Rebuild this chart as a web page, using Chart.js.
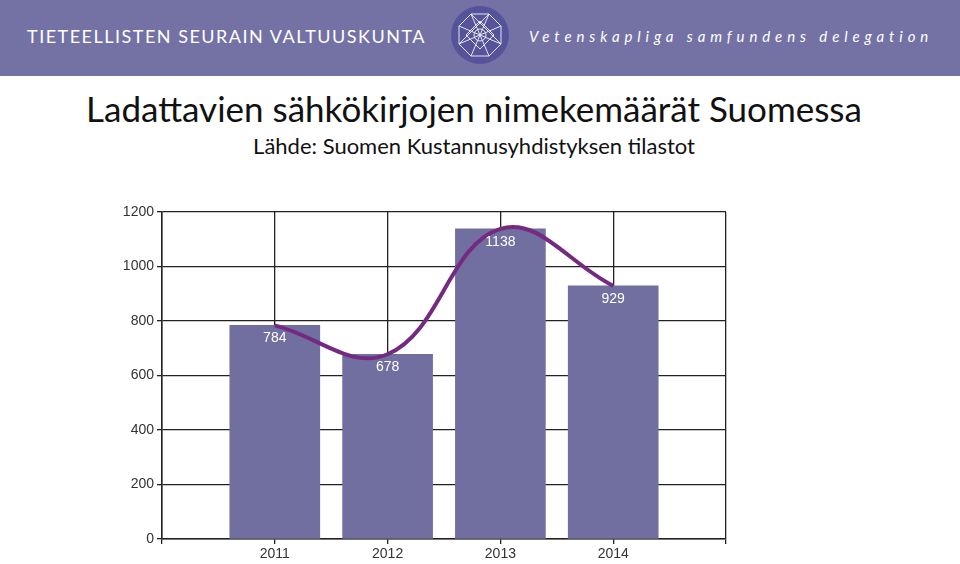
<!DOCTYPE html>
<html>
<head>
<meta charset="utf-8">
<script src="https://cdn.jsdelivr.net/npm/chart.js@4"></script>
<style>
  html, body { margin: 0; padding: 0; background: #fff; }
  body { width: 960px; height: 564px; overflow: hidden; position: relative; font-family: Lato, sans-serif; }
  .band { position: absolute; left: 0; top: 0; width: 960px; height: 76px; background: #7472a5; }
  .band span { position: absolute; color: #fff; white-space: nowrap; }
  .fi { left: 27px; top: 25px; font-size: 18px; line-height: 22px; letter-spacing: 1.5px; }
  .sv { left: 529px; top: 25px; font-size: 15px; line-height: 22px; font-style: italic; letter-spacing: 4.9px; }
  .band svg { position: absolute; left: 450px; top: 5px; }
  h1, h2 { position: absolute; left: -6px; width: 960px; margin: 0; text-align: center; font-weight: normal; color: #111; white-space: nowrap; }
  h1 { top: 86px; font-size: 35px; line-height: 44px; }
  h2 { top: 132px; font-size: 22px; line-height: 28px; }
  #wrap { position: absolute; left: 0; top: 200px; width: 960px; height: 364px; }
</style>
</head>
<body>
<div class="band">
  <span class="fi">TIETEELLISTEN SEURAIN VALTUUSKUNTA</span>
  <svg width="60" height="60" viewBox="0 0 60 60">
    <circle cx="30" cy="30" r="29" fill="#55549a"/>
    <g fill="none" stroke="#e4e4f0" stroke-width="1">
      <polygon points="21,9 39,9 51,21 51,39 39,51 21,51 9,39 9,21"/>
      <polygon points="30,16 44,30 30,44 16,30"/>
      <path d="M21 9L39 51M39 9L21 51M9 21L51 39M51 21L9 39"/>
      <path d="M21 9L51 39M39 9L9 39"/>
      <circle cx="30" cy="30" r="6"/>
    </g>
  </svg>
  <span class="sv">Vetenskapliga samfundens delegation</span>
</div>
<h1>Ladattavien sähkökirjojen nimekemäärät Suomessa</h1>
<h2>Lähde: Suomen Kustannusyhdistyksen tilastot</h2>
<div id="wrap"><canvas id="chart"></canvas></div>
<script>
// blank labels at both ends keep the axis running past the first and last year
const years = ["", "2011", "2012", "2013", "2014", ""];
const titles = [null, 784, 678, 1138, 929, null];
const yTicks = [0, 200, 400, 600, 800, 1000, 1200];

// writes the value inside the top of each bar
const barValues = {
  id: "barValues",
  afterDatasetsDraw(chart) {
    const ctx = chart.ctx;
    ctx.save();
    ctx.fillStyle = "#fff";
    ctx.font = "14px 'Liberation Sans'";
    ctx.textAlign = "center";
    ctx.textBaseline = "middle";
    chart.getDatasetMeta(1).data.forEach((bar, i) => {
      if (titles[i] === null) return;
      ctx.fillText(titles[i], bar.x, bar.y + 13);
    });
    ctx.restore();
  },
};

new Chart(document.getElementById("chart"), {
  data: {
    labels: years,
    datasets: [
      {
        type: "line",
        data: titles,
        borderColor: "#742a80",
        borderWidth: 4,
        tension: 0.4,
        pointRadius: 0,
        order: 1,
      },
      {
        type: "bar",
        data: titles,
        backgroundColor: "#716f9f",
        barThickness: 90,
        order: 2,
      },
    ],
  },
  options: {
    responsive: true,
    maintainAspectRatio: false,
    animation: false,
    layout: { padding: { left: 112, right: 234, top: 12, bottom: 0 } },
    plugins: { legend: { display: false }, tooltip: { enabled: false } },
    scales: {
      x: {
        type: "category",
        offset: false,
        afterFit: (scale) => { scale.height = 25; },
        grid: { color: "#222", lineWidth: 1.3, tickLength: 5, offset: false },
        border: { color: "#222", width: 1.5 },
        ticks: { color: "#333", autoSkip: false, maxRotation: 0, padding: 2, font: { family: "Liberation Sans", size: 14 } },
      },
      y: {
        min: 0,
        max: 1200,
        afterBuildTicks: (scale) => { scale.ticks = yTicks.map((value) => ({ value })); },
        afterFit: (scale) => { scale.width = 50; },
        grid: { color: "#222", lineWidth: 1.3, tickLength: 5 },
        border: { color: "#222", width: 1.5 },
        ticks: { color: "#333", padding: 3, callback: (value) => String(value), font: { family: "Liberation Sans", size: 14 } },
      },
    },
  },
  plugins: [barValues],
});
</script>
</body>
</html>
